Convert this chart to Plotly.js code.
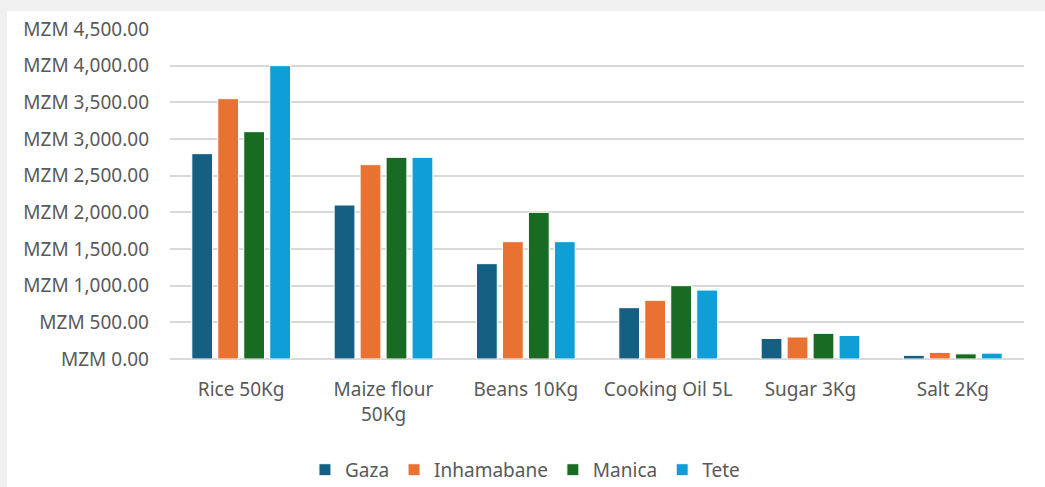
<!DOCTYPE html>
<html>
<head>
<meta charset="utf-8">
<script src="https://cdn.plot.ly/plotly-3.0.1.min.js"></script>
<style>
html,body{margin:0;padding:0;background:#f0f0f0;width:1045px;height:487px;overflow:hidden;}
#chart{position:absolute;left:7px;top:11px;width:1038px;height:476px;background:#fff;}
</style>
</head>
<body>
<div id="chart"></div>
<script>
const categories = ["Rice 50Kg", "Maize flour<br>50Kg", "Beans 10Kg", "Cooking Oil 5L", "Sugar 3Kg", "Salt 2Kg"];
const gaza = [2800, 2100, 1300, 700, 280, 50];
const inhamabane = [3550, 2650, 1600, 800, 300, 90];
const manica = [3100, 2750, 2000, 1000, 350, 70];
const tete = [4000, 2750, 1600, 940, 320, 80];
const seriesNames = ["Gaza", "Inhamabane", "Manica", "Tete"];
const colors = ["#156082", "#E97132", "#196B24", "#0F9ED5"];
const values = [gaza, inhamabane, manica, tete];

const traces = values.map((v, i) => ({
  type: "bar",
  name: seriesNames[i],
  x: categories,
  y: v,
  marker: {color: colors[i], line: {color: "#ffffff", width: 1}},
  hoverinfo: "x+y+name"
}));

const font = "'Noto Sans', 'Open Sans', sans-serif";
const layout = {
  width: 1038,
  height: 476,
  margin: {l: 163, r: 21, t: 18, b: 128},
  paper_bgcolor: "#ffffff",
  plot_bgcolor: "#ffffff",
  barmode: "group",
  bargap: 0.27,
  bargroupgap: 0.2,
  font: {family: font, size: 19, color: "#595959"},
  xaxis: {
    type: "category",
    showgrid: false,
    showline: false,
    ticks: "",
    ticklabelstandoff: 17,
    tickfont: {family: font, size: 19, color: "#595959"},
    automargin: false
  },
  yaxis: {
    range: [0, 4500],
    dtick: 500,
    tickprefix: "MZM ",
    tickformat: ",.2f",
    showgrid: true,
    gridcolor: "#d9d9d9",
    gridwidth: 2,
    zeroline: true,
    zerolinecolor: "#d9d9d9",
    zerolinewidth: 2,
    ticks: "",
    ticklen: 0,
    ticklabelstandoff: 20,
    tickfont: {family: font, size: 19, color: "#595959"},
    automargin: false
  },
  showlegend: true,
  legend: {
    orientation: "h",
    xref: "container",
    yref: "container",
    x: 0.499,
    xanchor: "center",
    y: 0.036,
    yanchor: "middle",
    font: {family: font, size: 19, color: "#595959"},
    itemwidth: 30,
    traceorder: "normal"
  }
};

Plotly.newPlot("chart", traces, layout, {displayModeBar: false, staticPlot: true});
</script>
</body>
</html>
